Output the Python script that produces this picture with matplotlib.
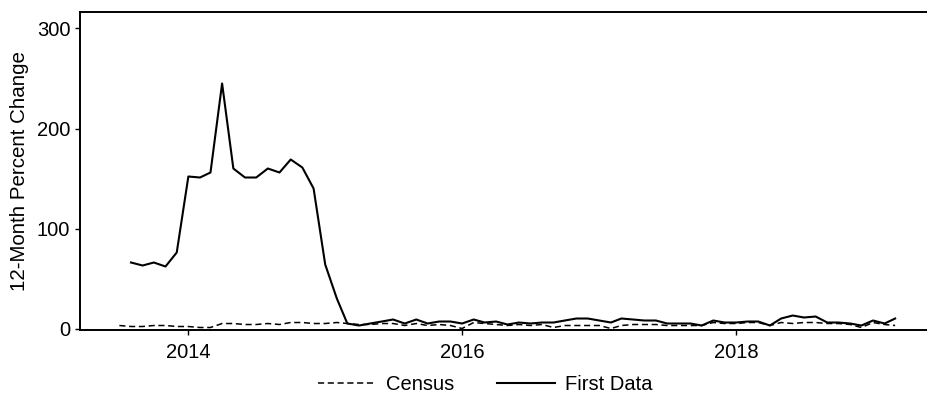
import numpy as np
import pandas as pd
import matplotlib
matplotlib.use("Agg")
import matplotlib.pyplot as plt
import matplotlib.dates as mdates

plt.rcParams['font.family'] = ['Liberation Sans', 'DejaVu Sans']

# First Data: monthly 12-month percent change, Aug 2013 - Mar 2019
first_data_start = "2013-08-01"
first_data = [66, 63, 66, 62, 76,
              152, 151, 156, 245, 160, 151, 151, 160, 156, 169, 161, 140,
              64, 30, 5, 3, 5, 7, 9, 5, 9, 5, 7, 7,
              5, 9, 6, 7, 4, 6, 5, 6, 6, 8, 10, 10,
              8, 6, 10, 9, 8, 8, 5, 5, 5, 3, 8, 6,
              6, 7, 7, 3, 10, 13, 11, 12, 6, 6, 5, 3,
              8, 5, 10]

# Census: monthly 12-month percent change, Jul 2013 - Mar 2019
census_start = "2013-07-01"
census = [3, 2, 2, 3, 3, 2,
          2, 1, 1, 5, 5, 4, 4, 5, 4, 6, 6, 5,
          5, 6, 5, 4, 4, 5, 5, 3, 5, 3, 4, 3,
          0, 6, 5, 4, 3, 4, 3, 4, 1, 3, 3, 3,
          3, 0, 3, 4, 4, 4, 3, 3, 3, 3, 6, 5,
          5, 6, 6, 3, 6, 5, 6, 6, 5, 5, 4, 1,
          6, 4, 3]

fd_dates = pd.date_range(first_data_start, periods=len(first_data), freq="MS")
ce_dates = pd.date_range(census_start, periods=len(census), freq="MS")

fig = plt.figure(figsize=(9.27, 3.96), dpi=100)
ax = fig.add_axes([0.0863, 0.1674, 0.9137, 0.8023])

ax.plot(ce_dates, census, color="black", linestyle=(0, (4, 2.4)), linewidth=1.1, label="Census")
ax.plot(fd_dates, first_data, color="black", linestyle="-", linewidth=1.5, label="First Data")

ax.set_xlim(pd.Timestamp("2013-03-18"), pd.Timestamp("2019-05-25"))
ax.set_ylim(-1.2, 316.5)
ax.set_yticks([0, 100, 200, 300])
ax.set_xticks([pd.Timestamp("2014-01-01"), pd.Timestamp("2016-01-01"), pd.Timestamp("2018-01-01")])
ax.xaxis.set_major_formatter(mdates.DateFormatter("%Y"))

for s in ["left", "bottom", "top"]:
    ax.spines[s].set_linewidth(1.4)
ax.spines["right"].set_visible(False)
ax.tick_params(axis="both", labelsize=14.5, length=3.5, width=1, direction="out", colors="black")
ax.tick_params(axis="x", pad=6)
ax.tick_params(axis="y", pad=3.5)

ax.set_ylabel("12-Month Percent Change", fontsize=14.8)
ax.yaxis.set_label_coords(-0.0605, 0.5)

leg = fig.legend(loc="center", bbox_to_anchor=(485 / 927, 1 - 385 / 396), ncol=2,
                 frameon=False, fontsize=14.5, handlelength=2.9, columnspacing=2.1,
                 handletextpad=0.5)

fig.savefig("out.png", dpi=100)
